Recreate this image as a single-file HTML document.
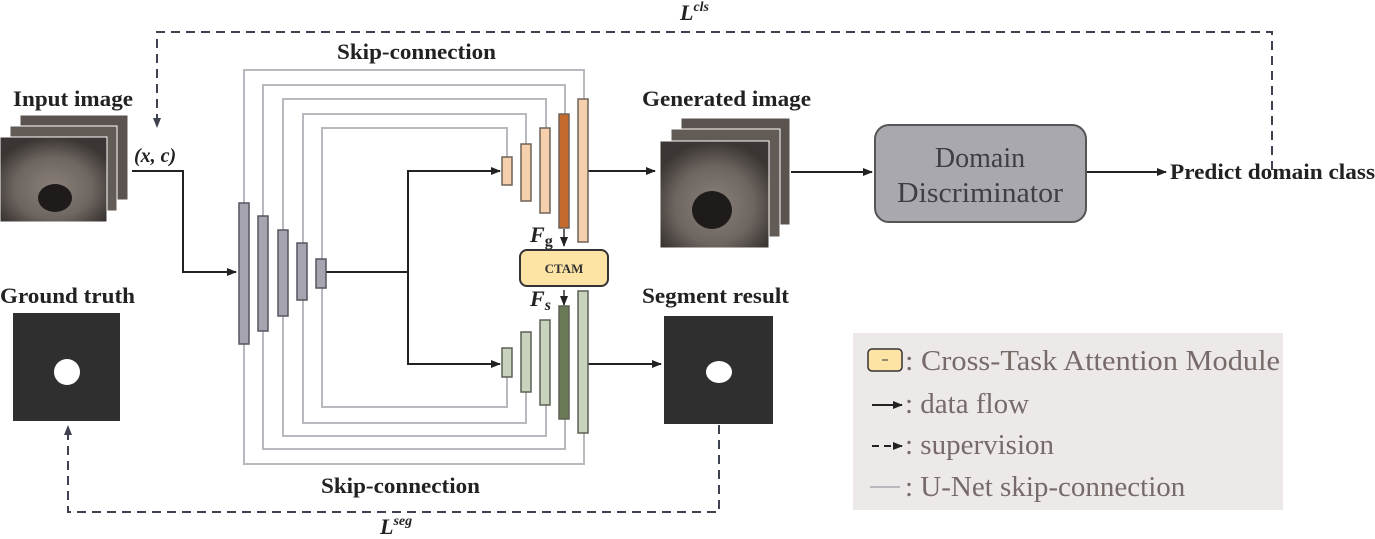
<!DOCTYPE html>
<html><head><meta charset="utf-8"><style>
html,body{margin:0;padding:0;background:#fff;}
svg{display:block;}
text{font-family:"Liberation Serif",serif;}
</style></head><body>
<svg width="1375" height="539" viewBox="0 0 1375 539" xmlns="http://www.w3.org/2000/svg">
<defs>
<marker id="ah" markerWidth="10" markerHeight="8" refX="9" refY="4" orient="auto" markerUnits="userSpaceOnUse"><path d="M0,0 L10,4 L0,8 z" fill="#222"/></marker>
<marker id="ahd" markerWidth="10" markerHeight="8" refX="9" refY="4" orient="auto" markerUnits="userSpaceOnUse"><path d="M0,0 L10,4 L0,8 z" fill="#3d4150"/></marker>
<radialGradient id="mri" cx="50%" cy="60%" r="60%"><stop offset="0" stop-color="#8a817a"/><stop offset="0.6" stop-color="#6d6560"/><stop offset="1" stop-color="#3b3633"/></radialGradient>
</defs>

<g fill="none" stroke="#b8b8be" stroke-width="2">
<path d="M244,203 V70 H584 V99 M244,344 V464 H584 V433"/>
<path d="M263,216 V85 H565 V114 M263,331 V449 H565 V419"/>
<path d="M283,230 V99 H546 V128 M283,316 V436 H546 V405"/>
<path d="M303,243 V114 H526 V144 M303,300 V423 H526 V392"/>
<path d="M322,259 V128 H507 V157 M322,288 V407 H507 V377"/>
</g>

<g fill="none" stroke="#222" stroke-width="2">
<path d="M132,171 H183 V272 H236" marker-end="url(#ah)"/>
<path d="M326,272 H408"/>
<path d="M408,364 V171 H500" marker-end="url(#ah)"/>
<path d="M408,272 V364 H500" marker-end="url(#ah)"/>
<path d="M588,171 H655" marker-end="url(#ah)"/>
<path d="M588,364 H661" marker-end="url(#ah)"/>
<path d="M791,172 H872" marker-end="url(#ah)"/>
<path d="M1086,172 H1166" marker-end="url(#ah)"/>
</g>

<g fill="#a6a4ae" stroke="#555560" stroke-width="1.5">
<rect x="239" y="203" width="10" height="141"/>
<rect x="258" y="216" width="10" height="115"/>
<rect x="278" y="230" width="10" height="86"/>
<rect x="297" y="243" width="10" height="57"/>
<rect x="316" y="259" width="10" height="29"/>
</g>
<g stroke="#6e6258" stroke-width="1.5">
<rect x="502" y="157" width="10" height="28" fill="#f6cfac"/>
<rect x="521" y="144" width="10" height="57" fill="#f6cfac"/>
<rect x="540" y="128" width="10" height="85" fill="#f6cfac"/>
<rect x="559" y="114" width="10" height="114" fill="#c56a2d"/>
<rect x="578" y="99" width="10" height="143" fill="#f6cfac"/>
</g>
<g stroke="#5c6155" stroke-width="1.5">
<rect x="502" y="348" width="10" height="29" fill="#c8d2bc"/>
<rect x="521" y="332" width="10" height="60" fill="#c8d2bc"/>
<rect x="540" y="320" width="10" height="85" fill="#c8d2bc"/>
<rect x="559" y="306" width="10" height="113" fill="#6a7a57"/>
<rect x="578" y="291" width="10" height="142" fill="#c8d2bc"/>
</g>

<rect x="520" y="250" width="88" height="36" rx="7" fill="#fde4a4" stroke="#333" stroke-width="2"/>
<text x="564" y="273" font-size="13" font-weight="bold" text-anchor="middle" fill="#333">CTAM</text>
<line x1="564" y1="229" x2="564" y2="246" stroke="#333" stroke-width="1.5" marker-end="url(#ah)"/>
<line x1="564" y1="290" x2="564" y2="305" stroke="#333" stroke-width="1.5" marker-end="url(#ah)"/>
<text x="530" y="242" font-size="22" font-weight="bold" font-style="italic" fill="#222">F<tspan font-size="16" dy="4" font-style="normal">g</tspan></text>
<text x="530" y="306" font-size="22" font-weight="bold" font-style="italic" fill="#222">F<tspan font-size="16" dy="4">s</tspan></text>

<g font-weight="bold" fill="#222" font-size="22">
<text x="337" y="59" textLength="159" lengthAdjust="spacingAndGlyphs">Skip-connection</text>
<text x="321" y="493" textLength="159" lengthAdjust="spacingAndGlyphs">Skip-connection</text>
<text x="13" y="106" textLength="120" lengthAdjust="spacingAndGlyphs">Input image</text>
<text x="0" y="303" textLength="135" lengthAdjust="spacingAndGlyphs">Ground truth</text>
<text x="642" y="106" textLength="169" lengthAdjust="spacingAndGlyphs">Generated image</text>
<text x="642" y="303" textLength="147" lengthAdjust="spacingAndGlyphs">Segment result</text>
<text x="1170" y="179" textLength="205" lengthAdjust="spacingAndGlyphs">Predict domain class</text>
<text x="134" y="162" font-style="italic" font-size="20">(x, c)</text>
<text x="680" y="20" font-style="italic" font-size="22">L<tspan font-size="14" dy="-9">cls</tspan></text>
<text x="380" y="534" font-style="italic" font-size="22">L<tspan font-size="14" dy="-9">seg</tspan></text>
</g>

<g stroke="#fff" stroke-width="1">
<rect x="20" y="115" width="108" height="85" fill="#5a534f"/>
<rect x="10" y="126" width="107" height="85" fill="#625b56"/>
<rect x="0" y="137" width="107" height="85" fill="url(#mri)"/>
<ellipse cx="55" cy="198" rx="17" ry="14" fill="#1e1b1a" stroke="none"/>
</g>
<g stroke="#fff" stroke-width="1">
<rect x="681" y="118" width="109" height="107" fill="#5a534f"/>
<rect x="671" y="129" width="109" height="108" fill="#625b56"/>
<rect x="660" y="141" width="109" height="107" fill="url(#mri)"/>
<ellipse cx="712" cy="210" rx="20" ry="19" fill="#1e1b1a" stroke="none"/>
</g>

<rect x="13" y="313" width="107" height="108" fill="#2f2f2f"/>
<ellipse cx="67" cy="372" rx="13" ry="13" fill="#fff"/>
<rect x="664" y="316" width="109" height="108" fill="#2f2f2f"/>
<ellipse cx="719" cy="372" rx="13" ry="11" fill="#fff"/>

<rect x="875" y="125" width="211" height="97" rx="14" fill="#a9a8ae" stroke="#555" stroke-width="2"/>
<text x="980" y="167" font-size="28" text-anchor="middle" fill="#3e3e44">Domain</text>
<text x="980" y="202" font-size="28" text-anchor="middle" fill="#3e3e44" textLength="166" lengthAdjust="spacingAndGlyphs">Discriminator</text>

<g fill="none" stroke="#3d4150" stroke-width="2" stroke-dasharray="9,6">
<path d="M1272,170 V32 H157 V127" marker-end="url(#ahd)"/>
<path d="M719,425 V512 H68 V426" marker-end="url(#ahd)"/>
</g>

<rect x="853" y="333" width="430" height="177" fill="#ede9e8"/>
<rect x="868" y="349" width="34" height="22" rx="4" fill="#fde4a4" stroke="#333" stroke-width="1.5"/>
<line x1="882" y1="360" x2="888" y2="360" stroke="#333" stroke-width="1"/>
<g font-size="29" fill="#766b68">
<text x="905" y="370" textLength="375" lengthAdjust="spacingAndGlyphs">: Cross-Task Attention Module</text>
<text x="905" y="413">: data flow</text>
<text x="905" y="454">: supervision</text>
<text x="905" y="496">: U-Net skip-connection</text>
</g>
<line x1="872" y1="405" x2="902" y2="405" stroke="#222" stroke-width="2" marker-end="url(#ah)"/>
<line x1="872" y1="446" x2="902" y2="446" stroke="#222" stroke-width="2" stroke-dasharray="7,5" marker-end="url(#ah)"/>
<line x1="870" y1="487" x2="900" y2="487" stroke="#b8b8be" stroke-width="2"/>
</svg>
</body></html>
